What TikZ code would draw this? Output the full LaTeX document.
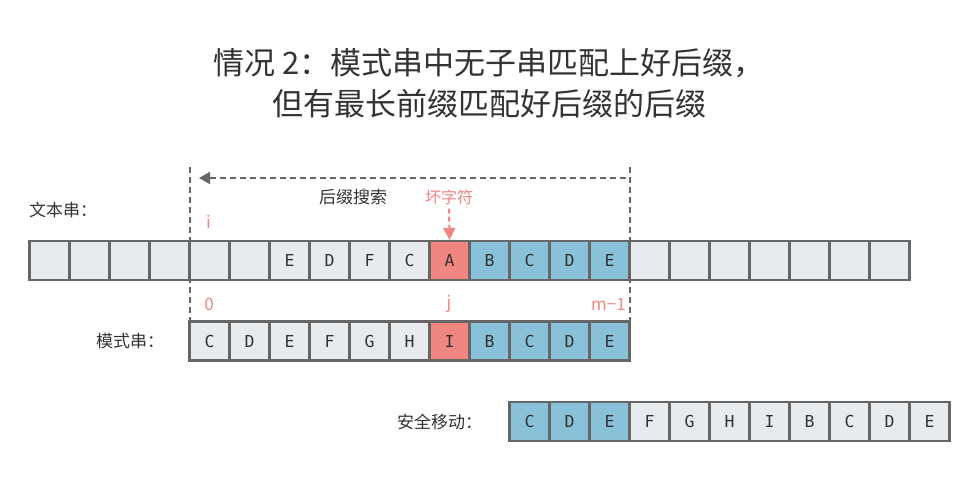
\documentclass[tikz,border=0pt]{standalone}
\usepackage{fontspec}
\setmainfont{Noto Sans CJK SC}
\newfontfamily\cellfont{DejaVu Sans Mono}
\usetikzlibrary{arrows.meta,positioning}

\definecolor{cellgray}{HTML}{E8EBEE}
\definecolor{cellblue}{HTML}{89C2D8}
\definecolor{cellred}{HTML}{F08682}
\definecolor{edgegray}{HTML}{666666}
\definecolor{txtgray}{HTML}{333333}
\definecolor{markred}{HTML}{F08682}

\tikzset{
  cell/.style={draw=edgegray, line width=2.2pt, fill=#1, minimum width=40pt,
    minimum height=39pt, inner sep=0pt, text=txtgray,
    font=\cellfont\fontsize{16.5}{16.5}\selectfont},
  cell/.default=cellgray,
  rowlabel/.style={text=txtgray, inner sep=0pt, font=\fontsize{17}{17}\selectfont},
  redlabel/.style={text=markred, inner sep=0pt, font=\fontsize{17}{17}\selectfont},
  guide/.style={edgegray, line width=2pt, dash pattern=on 6pt off 4pt},
}

\begin{document}
\begin{tikzpicture}[x=1pt, y=-1pt]
  \useasboundingbox (0,0) rectangle (980,481);

  % title
  \node[text=txtgray, align=center, font=\fontsize{31}{41}\selectfont] (title) at (489,83)
    {情况 2：模式串中无子串匹配上好后缀，\\但有最长前缀匹配好后缀的后缀};

  % window of the pattern
  \coordinate (topL) at (189.5,167);
  \coordinate (topR) at (629.5,167);
  \draw[guide] (topL) -- (189.5,321.5);
  \draw[guide] (topR) -- (629.5,321.5);

  % text string
  \foreach \ch/\fc [count=\k from 0] in {{}/cellgray,{}/cellgray,{}/cellgray,{}/cellgray,
      {}/cellgray,{}/cellgray,E/cellgray,D/cellgray,F/cellgray,C/cellgray,A/cellred,
      B/cellblue,C/cellblue,D/cellblue,E/cellblue,{}/cellgray,{}/cellgray,{}/cellgray,
      {}/cellgray,{}/cellgray,{}/cellgray,{}/cellgray}
    \node[cell=\fc] (t\k) at (49.5+40*\k,260.5) {\ch};

  % pattern
  \foreach \ch/\fc [count=\k from 0] in {C/cellgray,D/cellgray,E/cellgray,F/cellgray,
      G/cellgray,H/cellgray,I/cellred,B/cellblue,C/cellblue,D/cellblue,E/cellblue}
    \node[cell=\fc] (p\k) at (209.5+40*\k,341) {\ch};

  % safe shift
  \foreach \ch/\fc [count=\k from 0] in {C/cellblue,D/cellblue,E/cellblue,F/cellgray,
      G/cellgray,H/cellgray,I/cellgray,B/cellgray,C/cellgray,D/cellgray,E/cellgray}
    \node[cell=\fc] (s\k) at (529.5+40*\k,421.5) {\ch};

  \node[rowlabel, anchor=west] (textlbl) at (29,210) {文本串：};
  \node[rowlabel, left=24pt of p0] (patlbl) {模式串：};
  \node[rowlabel, left=26pt of s0] (shiftlbl) {安全移动：};

  % suffix search
  \coordinate (searchR) at (626,178);
  \coordinate (searchL) at (199,178);
  \draw[guide, -{Triangle[width=12pt,length=11pt]}] (searchR) -- (searchL);
  \node[rowlabel] (searchlbl) at (353,197) {后缀搜索};

  % bad character
  \node[redlabel, font=\fontsize{16}{16}\selectfont] (bad) at (449,197) {坏字符};
  \draw[markred, line width=2pt, dash pattern=on 5pt off 3pt,
    -{Triangle[width=12pt,length=12pt]}] ([yshift=-4pt]bad.south) -- (t10.north);

  \node[redlabel] (idxi) at (208.5,222) {i};
  \node[redlabel] (idx0) at (209,304) {0};
  \node[redlabel] (idxj) at (449,304) {j};
  \node[redlabel, anchor=east] (idxm) at (626,304) {m−1};
\end{tikzpicture}
\end{document}
